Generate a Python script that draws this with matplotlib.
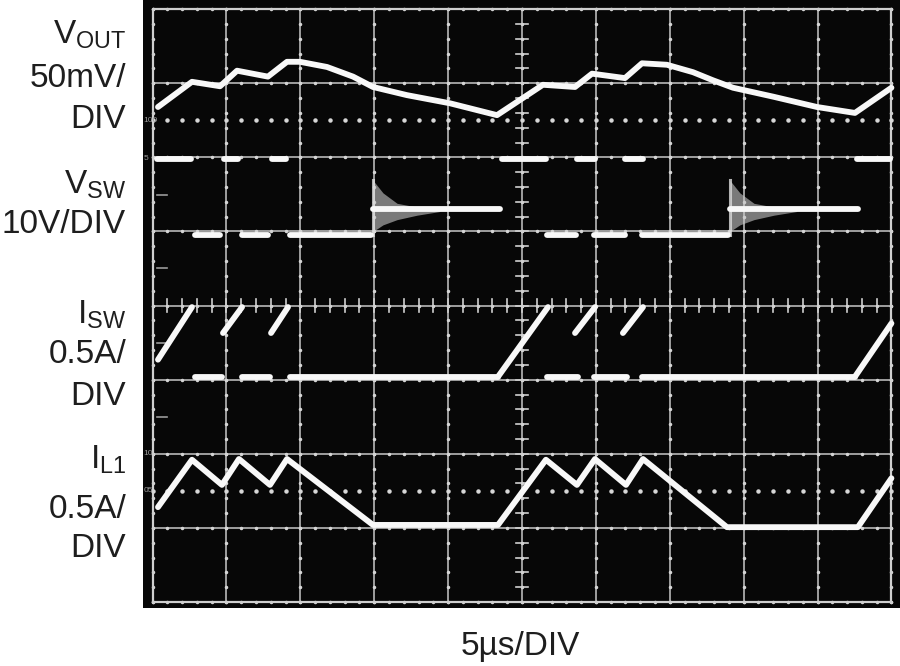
import numpy as np
import matplotlib.pyplot as plt

plt.rcParams['font.family'] = ['Liberation Sans', 'DejaVu Sans']
plt.rcParams['mathtext.fontset'] = 'custom'
plt.rcParams['mathtext.rm'] = 'Liberation Sans'

# Scope readings: time in microseconds (5us/DIV, 10 div), vertical in divisions (0..8)

# V_OUT trace
vout_t = [0.37, 2.67, 4.57, 5.72, 7.81, 9.10, 9.98, 11.81, 13.57, 14.92, 17.22, 20.13, 23.31,
          26.42, 28.59, 29.74, 31.97, 33.12, 34.81, 36.57, 37.93, 39.28, 41.99, 44.96, 47.53, 50.0]
vout_v = [6.68, 7.02, 6.96, 7.17, 7.09, 7.29, 7.29, 7.22, 7.09, 6.95, 6.84, 6.73, 6.57,
          6.98, 6.95, 7.13, 7.07, 7.27, 7.25, 7.15, 7.04, 6.94, 6.82, 6.68, 6.60, 6.94]

# V_SW trace (fast edges are invisible, so it is a set of level segments)
vsw_high_level = 5.98
vsw_low_level = 4.95
vsw_ring_level = 5.31
vsw_high = [(0.17, 2.74), (4.70, 5.92), (7.95, 9.17), (23.51, 26.76),
            (28.59, 30.07), (31.83, 33.32), (47.53, 50.0)]
vsw_low = [(2.74, 4.70), (5.92, 7.95), (9.17, 14.92),
           (26.56, 28.79), (29.74, 32.10), (32.98, 39.07)]
vsw_ring = [(14.92, 23.51), (39.07, 47.73)]
ring_dt = [0.0, 0.68, 1.63, 2.98, 4.53]
ring_upper = [5.69, 5.52, 5.38, 5.33, 5.31]
ring_lower = [5.00, 5.09, 5.16, 5.22, 5.27]

# I_SW trace
isw_base = 3.04
isw_low = [(2.74, 4.70), (5.92, 7.95), (9.17, 23.38),
           (26.56, 28.79), (29.74, 32.10), (32.98, 47.53)]
isw_ramps = [(0.37, 3.27, 2.67, 3.98), (4.77, 3.63, 6.06, 3.98), (8.02, 3.63, 9.17, 3.98),
             (23.38, 3.04, 26.76, 3.98), (28.59, 3.63, 29.94, 3.98), (31.83, 3.63, 33.19, 3.98),
             (47.53, 3.04, 50.0, 3.76)]

# I_L1 trace
il1_t = [0.37, 2.67, 4.70, 5.85, 7.95, 9.10, 14.92, 23.38,
         26.62, 28.72, 29.94, 32.04, 33.19, 38.87, 47.73, 50.0]
il1_v = [1.28, 1.92, 1.58, 1.93, 1.58, 1.93, 1.04, 1.04,
         1.92, 1.58, 1.93, 1.58, 1.93, 1.01, 1.01, 1.67]

labels = [(r'V$_{\mathregular{OUT}}$', 43), ('50mV/', 87), ('DIV', 128),
          (r'V$_{\mathregular{SW}}$', 193), ('10V/DIV', 233),
          (r'I$_{\mathregular{SW}}$', 323), ('0.5A/', 363), ('DIV', 405),
          (r'I$_{\mathregular{L1}}$', 468), ('0.5A/', 518), ('DIV', 557)]


def trace(ax, x, y):
    ax.plot(x, y, color='#f8f8f8', lw=4.2, solid_capstyle='round',
            solid_joinstyle='round', zorder=5)


fig = plt.figure(figsize=(9, 6.66), dpi=100)
ax = fig.add_axes([143 / 900, 58 / 666, 757 / 900, 608 / 666])
ax.set_facecolor('#070707')
ax.set_xlim(-0.643, 50.58)
ax.set_ylim(-0.081, 8.124)
ax.set_xticks([])
ax.set_yticks([])
for s in ax.spines.values():
    s.set_visible(False)

# graticule
grid_c = '#b8b8b8'
for i in range(11):
    ax.plot([i * 5, i * 5], [0, 8], color=grid_c, lw=1.2, zorder=1)
    ax.plot(np.full(41, i * 5), np.linspace(0, 8, 41), 'o', color='#d4d4d4', ms=1.5, zorder=2)
for j in range(9):
    ax.plot([0, 50], [j, j], color=grid_c, lw=1.2, zorder=1)
    ax.plot(np.linspace(0, 50, 51), np.full(51, j), 'o', color='#d4d4d4', ms=1.5, zorder=2)
ax.plot([0, 50, 50, 0, 0], [0, 0, 8, 8, 0], color='#cfcfcf', lw=1.6, zorder=2)

# center axis ticks
for yy in np.linspace(0, 8, 41):
    ax.plot([24.6, 25.4], [yy, yy], color='#d0d0d0', lw=1.2, zorder=2)
for xx in np.linspace(0, 50, 51):
    ax.plot([xx, xx], [3.91, 4.09], color='#d0d0d0', lw=1.2, zorder=2)

# dotted reference levels
for yy in (6.5, 1.5):
    ax.plot(np.linspace(0, 50, 51), np.full(51, yy), 'o', color='#d8d8d8', ms=2.2, zorder=2)

# small ground markers on the left
for yy in (5.49, 4.51, 3.50, 2.50):
    ax.plot([0.30, 0.98], [yy, yy], color='#9a9a9a', lw=1.2, zorder=2)
for txt, yy in (('100', 6.5), ('5', 5.99), ('10', 2.01), ('05', 1.51)):
    ax.text(-0.6, yy, txt, color='#9a9a9a', fontsize=6, va='center', ha='left', zorder=3)

# traces
trace(ax, vout_t, vout_v)

for a, b in vsw_high:
    trace(ax, [a + 0.12, b - 0.12], [vsw_high_level] * 2)
for a, b in vsw_low:
    trace(ax, [a + 0.12, b - 0.12], [vsw_low_level] * 2)
for a, b in vsw_ring:
    trace(ax, [a, b], [vsw_ring_level] * 2)
    tt = [a + d for d in ring_dt]
    ax.fill_between(tt, ring_lower, ring_upper, color='#c8c8c8', alpha=0.6, lw=0, zorder=4)
    ax.plot([a, a], [vsw_low_level, ring_upper[0]], color='#dddddd', lw=2.2, alpha=0.8, zorder=4)

for a, b in isw_low:
    trace(ax, [a + 0.12, b], [isw_base] * 2)
for t0, v0, t1, v1 in isw_ramps:
    trace(ax, [t0, t1], [v0, v1])

trace(ax, il1_t, il1_v)

# channel labels
for txt, y in labels:
    fig.text(126 / 900, 1 - y / 666, txt, ha='right', va='baseline',
             fontsize=24, color='#1e1e1e')
fig.text(520 / 900, 1 - 655 / 666, '5µs/DIV', ha='center', va='baseline',
         fontsize=24, color='#1e1e1e')

fig.savefig('out.png', dpi=100)
